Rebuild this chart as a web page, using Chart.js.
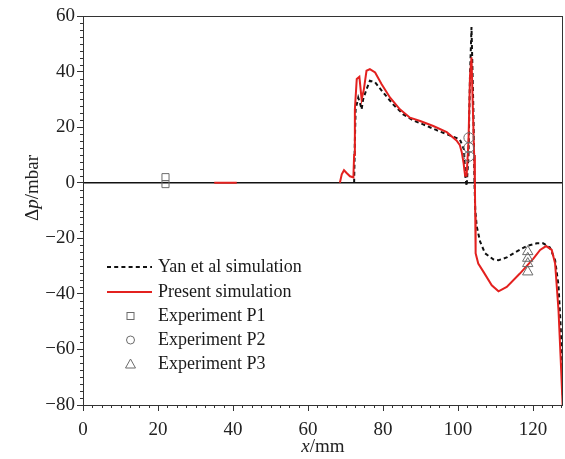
<!DOCTYPE html>
<html>
<head>
<meta charset="utf-8">
<script src="https://cdn.jsdelivr.net/npm/chart.js@4.4.0/dist/chart.umd.min.js"></script>
<style>
html, body { margin: 0; padding: 0; background: #fff; }
</style>
</head>
<body>
<canvas id="pressureChart" width="565" height="459"></canvas>
<script>
// 차트 데이터
const legendLabels = ['Yan et al simulation', 'Present simulation', 'Experiment P1', 'Experiment P2', 'Experiment P3'];
const xTicks = [0, 20, 40, 60, 80, 100, 120];
const yTicks = [-80, -60, -40, -20, 0, 20, 40, 60];

// Yan et al (검은 점선)
const yanX = [72.3, 72.5, 72.7, 73.4, 74.0, 74.3, 74.7, 75.6, 76.5, 77.9, 80.1, 82.7, 85.4, 88.1, 90.7, 94.3, 97.9, 100.5, 101.6, 101.9, 102.3, 102.8, 103.2, 103.6, 104.1, 104.4, 104.6, 105.0, 105.9, 107.2, 109.4, 110.8, 113.0, 115.6, 118.3, 121.0, 122.7, 124.5, 125.9, 126.8, 127.4, 127.9, 128.0];
const yanY = [0, 15, 26.4, 30.6, 28, 26.4, 30, 33.6, 36.7, 36.1, 32.4, 28.2, 24.6, 22.4, 21, 18.9, 17, 15.6, 11.9, 2.9, -1.2, 9.5, 38.5, 56, 26.4, 0, -9.8, -15.8, -21.2, -25.4, -27.6, -27.9, -26.9, -24.8, -22.8, -21.8, -21.8, -23.3, -27.9, -37, -52, -74.9, -78];

// Present simulation (빨간 실선), null = 끊김
const redX = [35, 41, 42, 68.5, 69.0, 69.6, 70.3, 71.2, 72.1, 72.3, 72.5, 73.0, 73.7, 74.3, 74.9, 75.6, 76.5, 77.9, 79.6, 81.9, 84.5, 87.2, 89.9, 93.4, 97.0, 99.6, 100.5, 101.0, 101.5, 101.9, 102.3, 102.8, 103.2, 103.6, 104.0, 104.3, 104.5, 104.6, 104.7, 105.4, 106.8, 109.0, 110.8, 113.0, 116.5, 120.1, 121.9, 123.5, 125.0, 125.9, 126.8, 127.4, 127.9];
const redY = [0, 0, null, 0, 3, 4.5, 3.5, 2.3, 1.9, 10, 26.4, 37.3, 38.1, 30.0, 33.6, 40.3, 40.9, 39.7, 35.5, 30.6, 26.4, 23.4, 22.2, 20.4, 18.2, 15.2, 13.5, 11, 7, 2.5, 2.5, 15, 38.5, 45.1, 25, 10, 0, -12, -25.4, -29.1, -32.1, -36.9, -39.1, -37.5, -32.7, -27.3, -24.2, -22.8, -24.2, -29.1, -45.9, -64, -80];

// 실험값
const p1X = [22, 22];
const p1Y = [2, -0.5];
const p2X = [102.9, 102.9, 102.9];
const p2Y = [16.2, 12.6, 9.5];
const p3X = [118.6, 118.6, 118.6, 118.6];
const p3Y = [-24.8, -27.2, -29.1, -32.1];

function toPoints(xs, ys) {
    return xs.map((x, i) => ({ x: x, y: ys[i] }));
}

const serif = '"Liberation Serif", "Times New Roman", serif';
const redColor = '#e3211f';
const markColor = '#6b6b6b';

// 프레임, 보조 눈금, 축 제목, 범례
const decoPlugin = {
    id: 'deco',
    afterDraw(chart) {
        const ctx = chart.ctx;
        const area = chart.chartArea;
        const xs = chart.scales.x;
        const ys = chart.scales.y;
        ctx.save();

        // 테두리
        ctx.strokeStyle = '#333';
        ctx.lineWidth = 1;
        ctx.strokeRect(area.left + 0.5, area.top + 0.5, area.right - area.left - 1, area.bottom - area.top);

        // 보조 눈금
        ctx.beginPath();
        for (let v = 0; v <= 128; v += 2.5) {
            if (v % 20 === 0) continue;
            const px = Math.round(xs.getPixelForValue(v)) + 0.5;
            ctx.moveTo(px, area.bottom);
            ctx.lineTo(px, area.bottom + 3);
        }
        for (let v = -80; v <= 60; v += 2.5) {
            if (v % 20 === 0) continue;
            const py = Math.round(ys.getPixelForValue(v)) + 0.5;
            ctx.moveTo(area.left, py);
            ctx.lineTo(area.left - 3, py);
        }
        ctx.stroke();

        // 축 제목
        ctx.fillStyle = '#222';
        ctx.textBaseline = 'middle';
        const normal = '19px ' + serif;
        const italic = 'italic 19px ' + serif;

        function drawParts(parts, cx, cy) {
            let total = 0;
            parts.forEach(p => { ctx.font = p[1]; total += ctx.measureText(p[0]).width; });
            let x = cx - total / 2;
            parts.forEach(p => {
                ctx.font = p[1];
                ctx.textAlign = 'left';
                ctx.fillText(p[0], x, cy);
                x += ctx.measureText(p[0]).width;
            });
        }

        drawParts([['x', italic], ['/mm', normal]], 323, 447);

        ctx.save();
        ctx.translate(33, 188);
        ctx.rotate(-Math.PI / 2);
        drawParts([['Δ', normal], ['p', italic], ['/mbar', normal]], 0, 0);
        ctx.restore();

        // 범례
        const rows = [267, 292, 316, 340, 364];
        ctx.font = '18px ' + serif;
        ctx.textAlign = 'left';
        ctx.fillStyle = '#1a1a1a';
        legendLabels.forEach((label, i) => ctx.fillText(label, 158, rows[i]));

        ctx.lineWidth = 2;
        ctx.strokeStyle = '#111';
        ctx.setLineDash([4, 3.2]);
        ctx.beginPath();
        ctx.moveTo(107, rows[0]);
        ctx.lineTo(152, rows[0]);
        ctx.stroke();
        ctx.setLineDash([]);
        ctx.strokeStyle = redColor;
        ctx.beginPath();
        ctx.moveTo(107, rows[1]);
        ctx.lineTo(152, rows[1]);
        ctx.stroke();

        ctx.lineWidth = 1;
        ctx.strokeStyle = markColor;
        ctx.strokeRect(127, rows[2] - 3.5, 7, 7);
        ctx.beginPath();
        ctx.arc(130.5, rows[3], 4, 0, Math.PI * 2);
        ctx.stroke();
        ctx.beginPath();
        ctx.moveTo(130.5, rows[4] - 5);
        ctx.lineTo(135.5, rows[4] + 4);
        ctx.lineTo(125.5, rows[4] + 4);
        ctx.closePath();
        ctx.stroke();

        ctx.restore();
    }
};

function tickLabel(value) {
    if (value < 0) return '\u2212' + Math.abs(value);
    return String(value);
}

const ctx = document.getElementById('pressureChart').getContext('2d');

new Chart(ctx, {
    type: 'scatter',
    data: {
        datasets: [
            {
                label: legendLabels[2],
                data: toPoints(p1X, p1Y),
                pointStyle: 'rect',
                pointRadius: 5,
                borderColor: markColor,
                borderWidth: 1,
                backgroundColor: 'rgba(0,0,0,0)',
                order: 0
            },
            {
                label: legendLabels[3],
                data: toPoints(p2X, p2Y),
                pointStyle: 'circle',
                pointRadius: 5,
                borderColor: markColor,
                borderWidth: 1,
                backgroundColor: 'rgba(0,0,0,0)',
                order: 0
            },
            {
                label: legendLabels[4],
                data: toPoints(p3X, p3Y),
                pointStyle: 'triangle',
                pointRadius: 6,
                borderColor: markColor,
                borderWidth: 1,
                backgroundColor: 'rgba(0,0,0,0)',
                order: 0
            },
            {
                label: legendLabels[1],
                data: toPoints(redX, redY),
                showLine: true,
                borderColor: redColor,
                borderWidth: 2,
                pointRadius: 0,
                tension: 0,
                spanGaps: false,
                order: 1
            },
            {
                label: legendLabels[0],
                data: toPoints(yanX, yanY),
                showLine: true,
                borderColor: '#111',
                borderWidth: 2,
                borderDash: [4, 3],
                pointRadius: 0,
                tension: 0,
                order: 2
            },
            {
                label: 'zero',
                data: [{ x: 0, y: 0 }, { x: 128, y: 0 }],
                showLine: true,
                borderColor: '#111',
                borderWidth: 1.6,
                pointRadius: 0,
                order: 3
            }
        ]
    },
    options: {
        responsive: false,
        animation: false,
        layout: {
            autoPadding: false,
            padding: { top: 16, right: 2, left: 0, bottom: 0 }
        },
        plugins: {
            legend: { display: false },
            tooltip: { enabled: false }
        },
        scales: {
            x: {
                type: 'linear',
                min: 0,
                max: 128,
                afterFit: function(scale) {
                    scale.height = 54;
                    scale.paddingLeft = 0;
                    scale.paddingRight = 0;
                },
                border: { display: false },
                grid: {
                    drawOnChartArea: false,
                    drawTicks: true,
                    tickLength: 6,
                    color: '#333'
                },
                afterBuildTicks: function(scale) {
                    scale.ticks = xTicks.map(v => ({ value: v }));
                },
                ticks: {
                    padding: 8,
                    color: '#222',
                    font: { family: serif, size: 19 },
                    maxRotation: 0,
                    callback: tickLabel
                }
            },
            y: {
                type: 'linear',
                min: -80,
                max: 60,
                afterFit: function(scale) {
                    scale.width = 83;
                    scale.paddingTop = 0;
                    scale.paddingBottom = 0;
                },
                border: { display: false },
                grid: {
                    drawOnChartArea: false,
                    drawTicks: true,
                    tickLength: 6,
                    color: '#333'
                },
                afterBuildTicks: function(scale) {
                    scale.ticks = yTicks.map(v => ({ value: v }));
                },
                ticks: {
                    padding: 2,
                    color: '#222',
                    font: { family: serif, size: 19 },
                    callback: tickLabel
                }
            }
        }
    },
    plugins: [decoPlugin]
});
</script>
</body>
</html>
